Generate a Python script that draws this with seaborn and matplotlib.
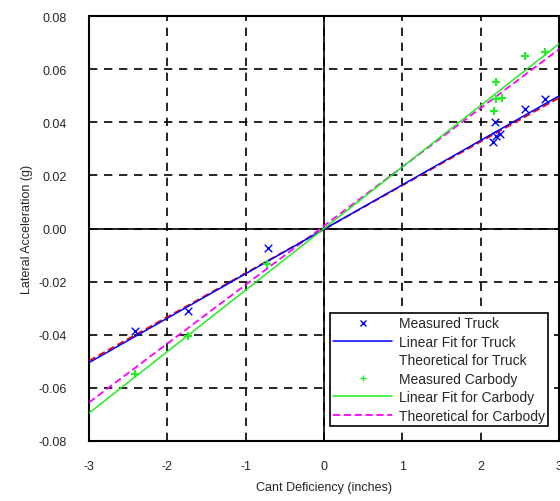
import numpy as np
import pandas as pd
import matplotlib
matplotlib.use('Agg')
import matplotlib.pyplot as plt
import seaborn as sns
from matplotlib.lines import Line2D

# 测量点: 转向架 (Truck)
truck_x = [-2.41, -1.74, -0.71, 2.18, 2.20, 2.16, 2.25, 2.57, 2.82]
truck_y = [-0.0386, -0.031, -0.0073, 0.0401, 0.0348, 0.0325, 0.0356, 0.045, 0.0488]

# 测量点: 车体 (Carbody)
carbody_x = [-2.41, -1.74, -0.73, 2.17, 2.20, 2.27, 2.20, 2.57, 2.82]
carbody_y = [-0.0548, -0.0405, -0.0134, 0.0443, 0.0488, 0.049, 0.055, 0.065, 0.0663]

# 直线端点
line_x = [-3.0, 3.0]
fit_truck_y = [-0.0505, 0.0499]
theo_truck_y = [-0.0498, 0.0492]
fit_carbody_y = [-0.0695, 0.0695]
theo_carbody_y = [-0.0655, 0.0675]

x_ticks = [-3, -2, -1, 0, 1, 2, 3]
y_ticks = [-0.08, -0.06, -0.04, -0.02, 0.00, 0.02, 0.04, 0.06, 0.08]

sns.set_style('white')
plt.rcParams['font.family'] = ['Liberation Sans', 'DejaVu Sans']
plt.rcParams['axes.unicode_minus'] = False

fig = plt.figure(figsize=(5.6, 5.02), dpi=100)
ax = fig.add_axes([89 / 560, 60 / 502, 470 / 560, 425 / 502])

ax.set_xlim(-3, 3)
ax.set_ylim(-0.08, 0.08)
ax.set_xticks(x_ticks)
ax.set_yticks(y_ticks)
ax.set_yticklabels([f'{v:.2f}' for v in y_ticks])
ax.grid(True, color='black', linestyle=(0, (5, 4)), linewidth=1.2)
ax.axhline(0, color='black', linewidth=1.2, zorder=1)
ax.axvline(0, color='black', linewidth=1.2, zorder=1)
for s in ax.spines.values():
    s.set_color('black')
    s.set_linewidth(1.5)
ax.tick_params(length=0, pad=14, labelsize=9)
ax.tick_params(axis='y', pad=16)

lines = pd.DataFrame({'x': line_x, 'fit_t': fit_truck_y, 'theo_t': theo_truck_y,
                      'fit_c': fit_carbody_y, 'theo_c': theo_carbody_y})

sns.lineplot(data=lines, x='x', y='theo_t', ax=ax, color='red',
             linestyle=(0, (4, 2)), linewidth=1.3, zorder=3)
sns.lineplot(data=lines, x='x', y='fit_t', ax=ax, color='blue',
             linewidth=1.1, zorder=4)
sns.lineplot(data=lines, x='x', y='fit_c', ax=ax, color='#22ee22',
             linewidth=1.1, zorder=4)
sns.lineplot(data=lines, x='x', y='theo_c', ax=ax, color='magenta',
             linestyle=(0, (4, 2)), linewidth=1.3, zorder=3)
sns.scatterplot(x=truck_x, y=truck_y, ax=ax, marker='x', color='blue',
                s=30, linewidth=1.0, zorder=5)
sns.scatterplot(x=carbody_x, y=carbody_y, ax=ax, marker='+', color='#22ee22',
                s=40, linewidth=1.5, zorder=5)

ax.set_xlabel('Cant Deficiency (inches)', fontsize=9, labelpad=6)
ax.set_ylabel('Lateral Acceleration (g)', fontsize=9, labelpad=4)

handles = [
    Line2D([], [], marker='x', color='blue', linestyle='none', markersize=4),
    Line2D([], [], color='blue', linewidth=1.1),
    Line2D([], [], color='none'),
    Line2D([], [], marker='+', color='#22ee22', linestyle='none', markersize=4),
    Line2D([], [], color='#22ee22', linewidth=1.1),
    Line2D([], [], color='magenta', linestyle=(0, (4, 2)), linewidth=1.3),
]
labels = ['Measured Truck', 'Linear Fit for Truck', 'Theoretical for Truck',
          'Measured Carbody', 'Linear Fit for Carbody', 'Theoretical for Carbody']
leg = ax.legend(handles, labels, loc='lower right', bbox_to_anchor=(0.977, 0.035),
                fontsize=10, frameon=True, fancybox=False, framealpha=1,
                edgecolor='black', borderpad=0.25, labelspacing=0.32,
                handlelength=4.2, handletextpad=0.5, borderaxespad=0)
leg.get_frame().set_linewidth(1.2)

fig.savefig('out.png', dpi=100)
